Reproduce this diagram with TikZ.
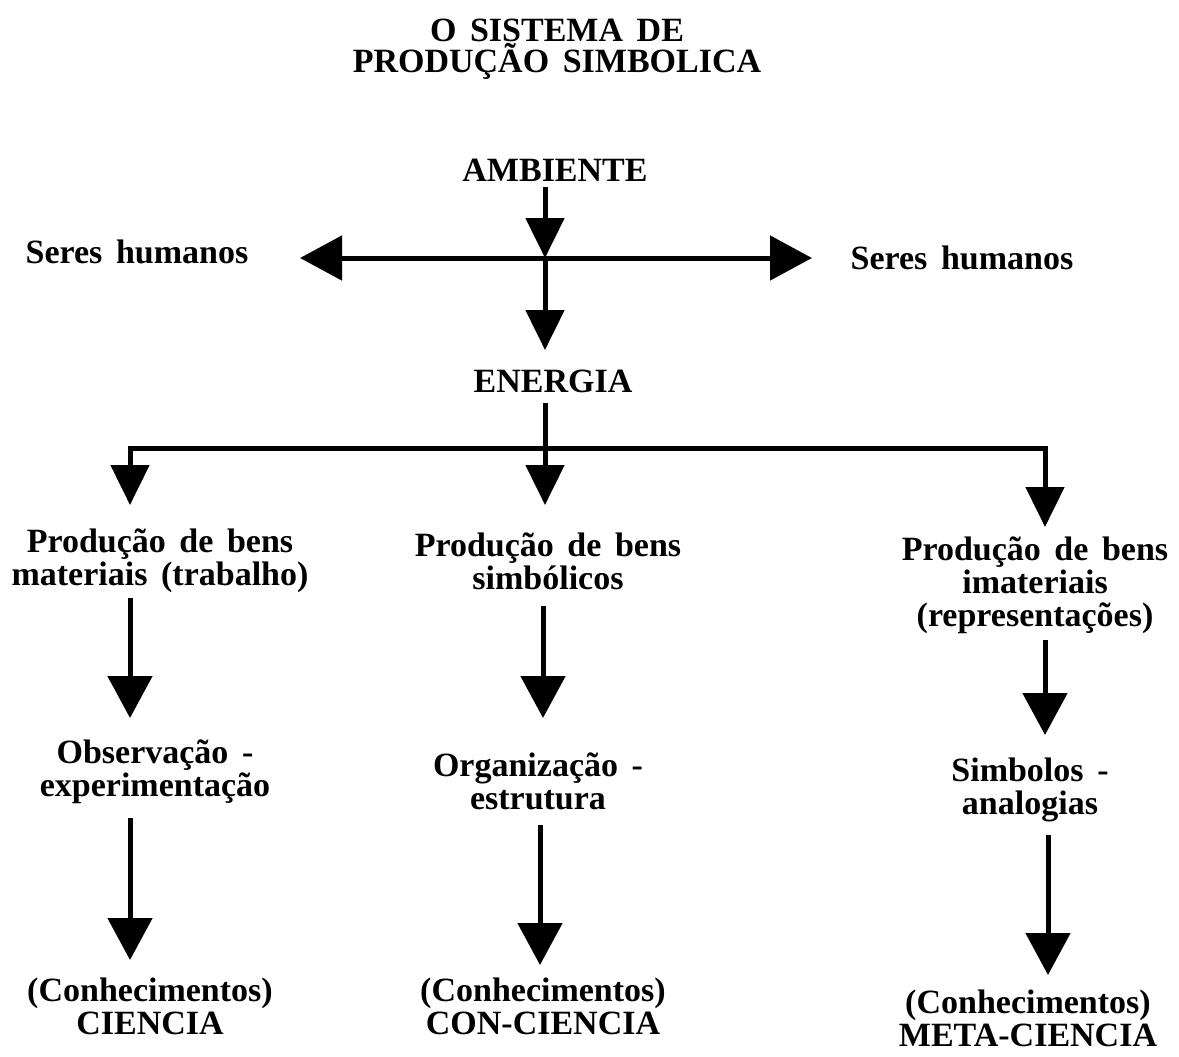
\documentclass[tikz,border=0pt]{standalone}
\usepackage{fontspec}
\setmainfont[WordSpace=1.6]{Liberation Serif}
\usetikzlibrary{arrows.meta}
\tikzset{
  lbl/.style={font=\fontsize{17}{16.5}\selectfont\bfseries, align=center, inner sep=0pt},
  ttl/.style={font=\fontsize{17}{15.5}\selectfont\bfseries, align=center, inner sep=0pt},
  conn/.style={line width=2.5pt, draw=black},
  arrS/.style={conn, -{Triangle[length=20pt,width=19pt]}},
  arrH/.style={conn, -{Triangle[length=21pt,width=22pt]}},
  arrL/.style={conn, -{Triangle[length=21pt,width=22pt]}}
}
\begin{document}
\begin{tikzpicture}[x=0.5pt,y=-0.5pt]
\useasboundingbox (0,0) rectangle (1179,1056);
% texts
\node[ttl] (title) at (557,49) {O SISTEMA DE\\PRODUÇÃO SIMBOLICA};
\node[lbl] (amb) at (555,170) {AMBIENTE};
\node[lbl] (serL) at (137,252) {Seres humanos};
\node[lbl] (serR) at (962,258) {Seres humanos};
\node[lbl] (ener) at (553,381) {ENERGIA};
\node[lbl] (pm) at (160,561) {Produção de bens\\materiais (trabalho)};
\node[lbl] (ps) at (548,561) {Produção de bens\\simbólicos};
\node[lbl] (pi) at (1035,585) {Produção de bens\\imateriais\\(representações)};
\node[lbl] (obs) at (155,772) {Observação -\\experimentação};
\node[lbl] (org) at (538,781) {Organização -\\estrutura};
\node[lbl] (sim) at (1030,790) {Simbolos -\\analogias};
\node[lbl] (c1) at (150,1006) {(Conhecimentos)\\CIENCIA};
\node[lbl] (c2) at (543,1006) {(Conhecimentos)\\CON-CIENCIA};
\node[lbl] (c3) at (1028,1018) {(Conhecimentos)\\META-CIENCIA};
% coordinates
\coordinate (a0) at (545,187);
\coordinate (h) at (545,258);
\coordinate (hl) at (300,258);
\coordinate (hr) at (812,258);
\coordinate (e1) at (545,350);
\coordinate (e0) at (545,403);
\coordinate (j) at (545,448);
\coordinate (t1) at (130,505);
\coordinate (t2) at (545,505);
\coordinate (t3) at (1045,527);
\coordinate (p1) at (130,598);
\coordinate (p2) at (543,606);
\coordinate (p3) at (1045,640);
\coordinate (q1) at (130,718);
\coordinate (q2) at (543,718);
\coordinate (q3) at (1045,735);
\coordinate (r1) at (130,818);
\coordinate (r2) at (540,825);
\coordinate (r3) at (1048,835);
\coordinate (s1) at (130,960);
\coordinate (s2) at (540,965);
\coordinate (s3) at (1048,975);
% connectors
\draw[arrS] (a0) -- (h);
\draw[arrH] (h) -- (hl);
\draw[arrH] (h) -- (hr);
\draw[arrS] (h) -- (e1);
\draw[conn] (e0) -- (j);
\draw[arrS] (j) -| (t1);
\draw[arrS] (j) -- (t2);
\draw[arrS] (j) -| (t3);
\draw[arrL] (p1) -- (q1);
\draw[arrL] (p2) -- (q2);
\draw[arrL] (p3) -- (q3);
\draw[arrL] (r1) -- (s1);
\draw[arrL] (r2) -- (s2);
\draw[arrL] (r3) -- (s3);
\end{tikzpicture}
\end{document}
